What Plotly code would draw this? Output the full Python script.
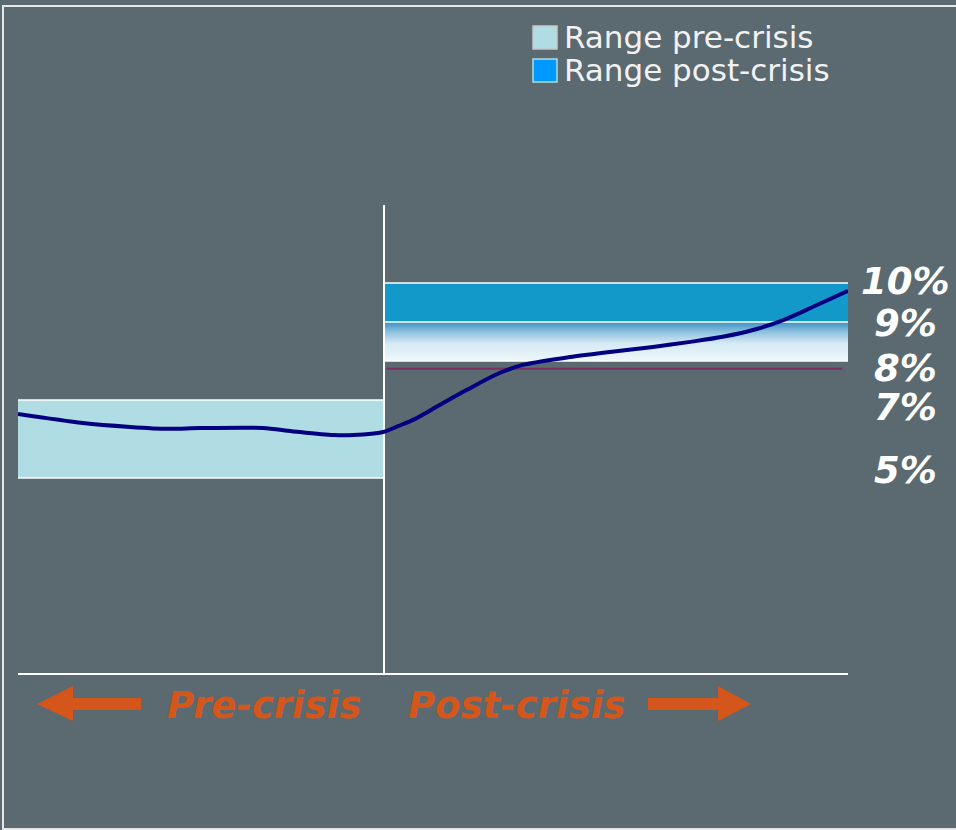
import plotly.graph_objects as go

# ---------------- data ----------------
period = [0, 7.8, 13.5, 18, 22, 29.5, 33, 38, 40.4, 44, 45.8, 47.8, 50.8, 54.1,
          57.5, 60.8, 66.5, 71.3, 76.5, 81, 84.9, 89, 92.2, 95.8, 100]
rate = [6.64, 6.41, 6.31, 6.26, 6.28, 6.28, 6.2, 6.1, 6.1, 6.18, 6.33, 6.51, 6.87, 7.26,
        7.64, 7.9, 8.1, 8.23, 8.36, 8.49, 8.62, 8.82, 9.05, 9.39, 9.8]
crisis_at = 44.1
period_end = 100
pre_range = [5.0, 7.0]
post_range = [8.0, 10.0]
post_mid = 9.0
threshold = 7.8
label_text = ["10%", "9%", "8%", "7%", "5%"]
label_y = [10.05, 8.97, 7.8, 6.8, 5.2]
legend_names = ["Range pre-crisis", "Range post-crisis"]
phase_names = ["Pre-crisis", "Post-crisis"]

# ---------------- layout geometry ----------------
W, H = 956, 830
ML, MR, MT, MB = 18, 108, 205, 157
PW, PH = W - ML - MR, H - MT - MB

def px(x):
    return (x - ML) / PW

def py(y):
    return (H - MB - y) / PH

BG = "#5B6970"
PRE_COL = "#B0DCE3"
POST_COL = "#1399C9"
ORANGE = "#D4561B"

fig = go.Figure()

# pre-crisis band
fig.add_trace(go.Scatter(
    x=[0, crisis_at, crisis_at, 0, 0],
    y=[pre_range[0], pre_range[0], pre_range[1], pre_range[1], pre_range[0]],
    fill="toself", fillcolor=PRE_COL, line=dict(width=0), mode="lines",
    showlegend=False, hoverinfo="skip"))
# post-crisis solid part
fig.add_trace(go.Scatter(
    x=[crisis_at, period_end, period_end, crisis_at, crisis_at],
    y=[post_mid, post_mid, post_range[1], post_range[1], post_mid],
    fill="toself", fillcolor=POST_COL, line=dict(width=0), mode="lines",
    showlegend=False, hoverinfo="skip"))
# post-crisis gradient part
fig.add_trace(go.Scatter(
    x=[crisis_at, period_end, period_end, crisis_at, crisis_at],
    y=[post_range[0], post_range[0], post_mid, post_mid, post_range[0]],
    fill="toself", mode="lines", line=dict(width=0),
    fillgradient=dict(type="vertical",
                      colorscale=[[0, "#EEF7FB"], [0.45, "#D6EAF4"],
                                  [0.75, "#8CC0DE"], [1, "#3A90C4"]]),
    showlegend=False, hoverinfo="skip"))

# white edges of the bands
for y0 in pre_range:
    fig.add_trace(go.Scatter(x=[0, crisis_at], y=[y0, y0], mode="lines",
                             line=dict(color="white", width=1.5),
                             showlegend=False, hoverinfo="skip"))
for y0 in [post_range[0], post_mid, post_range[1]]:
    fig.add_trace(go.Scatter(x=[crisis_at, period_end], y=[y0, y0], mode="lines",
                             line=dict(color="white", width=1.5),
                             showlegend=False, hoverinfo="skip"))

# threshold line
fig.add_trace(go.Scatter(x=[crisis_at + 0.3, period_end - 0.7], y=[threshold, threshold],
                         mode="lines", line=dict(color="#7A3060", width=2),
                         showlegend=False, hoverinfo="skip"))

# crisis divider
fig.add_trace(go.Scatter(x=[crisis_at, crisis_at], y=[0, 12], mode="lines",
                         line=dict(color="white", width=2),
                         showlegend=False, hoverinfo="skip"))

# rate curve
fig.add_trace(go.Scatter(x=period, y=rate, mode="lines",
                         line=dict(color="#000080", width=4, shape="spline", smoothing=0.8),
                         showlegend=False))

shapes = []
# outer frame
shapes.append(dict(type="rect", xref="paper", yref="paper",
                   x0=px(3), x1=px(970), y0=py(6), y1=py(829),
                   line=dict(color="#E6E6E6", width=2), fillcolor="rgba(0,0,0,0)"))
# legend boxes
shapes.append(dict(type="rect", xref="paper", yref="paper",
                   x0=px(533), x1=px(557), y0=py(49), y1=py(26),
                   fillcolor=PRE_COL, line=dict(color="#C8C8C8", width=1.5)))
shapes.append(dict(type="rect", xref="paper", yref="paper",
                   x0=px(533), x1=px(557), y0=py(82), y1=py(59),
                   fillcolor="#0099FF", line=dict(color="#B0DCE3", width=1.5)))

def arrow(points):
    d = "M " + " L ".join(f"{px(a):.5f},{py(b):.5f}" for a, b in points) + " Z"
    return dict(type="path", xref="paper", yref="paper", path=d,
                fillcolor=ORANGE, line=dict(width=0))

shapes.append(arrow([(37, 704), (73, 686), (73, 698), (141, 698), (141, 710), (73, 710), (73, 721)]))
shapes.append(arrow([(751, 704), (718, 686), (718, 698), (648, 698), (648, 710), (718, 710), (718, 721)]))

annotations = []
for i, name in enumerate(legend_names):
    annotations.append(dict(xref="paper", yref="paper", x=px(562), y=py(37 + 33 * i),
                            text=name, showarrow=False, xanchor="left", yanchor="middle",
                            font=dict(family="DejaVu Sans", size=31, color="#F2F2F2")))
for t, yv in zip(label_text, label_y):
    annotations.append(dict(xref="paper", yref="y", x=px(905), y=yv, text=t,
                            showarrow=False, xanchor="center", yanchor="middle",
                            font=dict(family="DejaVu Sans", size=37, color="white",
                                      weight="bold", style="italic")))
for t, cx in zip(phase_names, [264, 516]):
    annotations.append(dict(xref="paper", yref="paper", x=px(cx), y=py(705), text=t,
                            showarrow=False, xanchor="center", yanchor="middle",
                            font=dict(family="DejaVu Sans", size=37, color=ORANGE,
                                      weight="bold", style="italic")))

fig.update_layout(
    width=W, height=H,
    margin=dict(l=ML, r=MR, t=MT, b=MB),
    paper_bgcolor=BG, plot_bgcolor=BG,
    xaxis=dict(range=[0, period_end], showgrid=False, zeroline=False, showticklabels=False,
               ticks="", showline=True, linecolor="white", linewidth=2),
    yaxis=dict(range=[0, 12], showgrid=False, zeroline=False, showticklabels=False,
               ticks="", showline=False),
    shapes=shapes, annotations=annotations,
    showlegend=False,
)

fig.write_html("out.html")
